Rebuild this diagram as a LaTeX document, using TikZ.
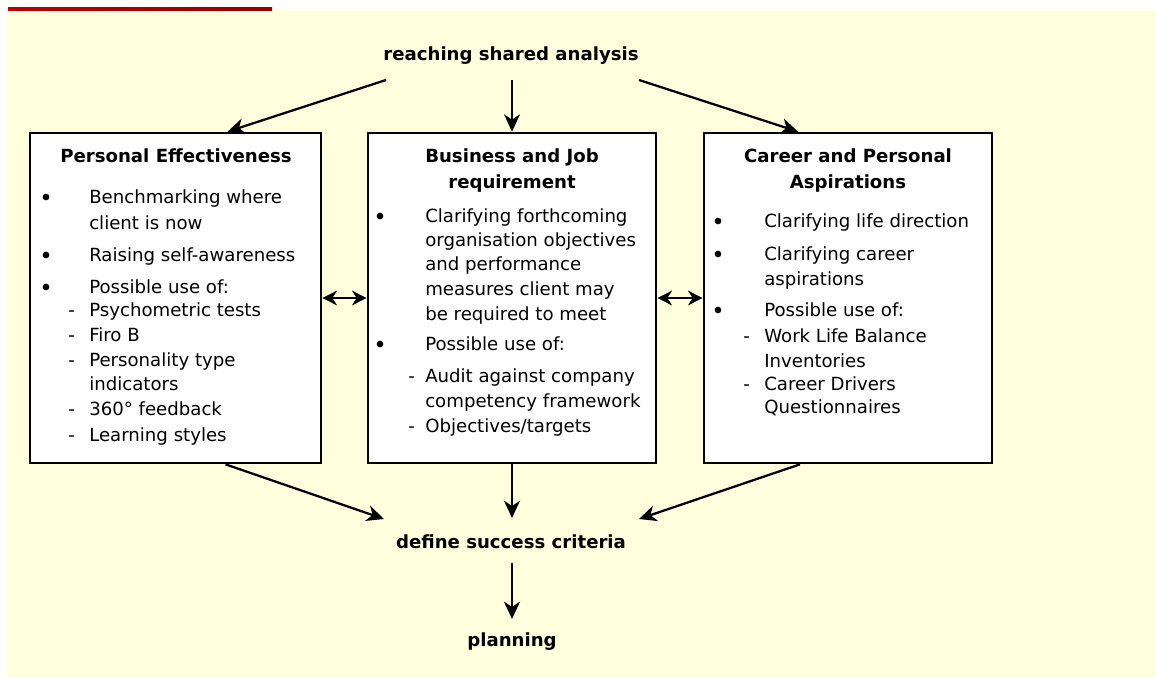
\documentclass[tikz,border=0pt]{standalone}
\usepackage{fontspec}
\setmainfont{DejaVu Sans}
\usetikzlibrary{arrows.meta,calc}

\definecolor{paleyellow}{RGB}{255,255,221}
\definecolor{barred}{RGB}{190,0,0}
\definecolor{bardark}{RGB}{150,0,0}

\tikzset{
  box/.style={draw, fill=white, line width=2pt, inner sep=0pt, minimum height=247.5pt},
  txt/.style={anchor=base west, inner sep=0pt, font=\fontsize{13.6}{16}\selectfont},
  ttl/.style={anchor=base, inner sep=0.75pt, font=\fontsize{13.6}{16}\selectfont\bfseries},
  bul/.style={circle, fill=black, inner sep=0pt, minimum size=5pt},
  arr/.style={line width=1.7pt, -{Stealth[length=13pt,width=12pt,inset=4pt]}},
  dbl/.style={line width=1.7pt, {Stealth[length=11pt,width=11pt,inset=3.5pt]}-{Stealth[length=11pt,width=11pt,inset=3.5pt]}}
}

\begin{document}
\begin{tikzpicture}[x=0.75pt,y=0.75pt,yscale=-1,xscale=1]
\useasboundingbox (0,0) rectangle (1156,678);

%Background
\fill [white] (0,0) rectangle (1156,678);
\fill [paleyellow] (7,10) rectangle (1156,678);
\shade [left color=barred, right color=bardark] (8,7) rectangle (272,10);

%Boxes
\node (pe) [box, minimum width=218.25pt] at (175.5,298) {};
\node (bj) [box, minimum width=216pt] at (512,298) {};
\node (cp) [box, minimum width=216pt] at (848,298) {};

% Text Node
\draw (511,60) node (rsa) [ttl] {reaching shared analysis};
% Text Node
\draw (511,548) node (dsc) [ttl] {define success criteria};
% Text Node
\draw (512,646) node (pl) [ttl] {planning};

%Personal Effectiveness
\draw (176,162) node (pe-t) [ttl] {Personal Effectiveness};
\draw (46,197) node (pe-b1) [bul] {};
\draw (89,203) node (pe-1) [txt] {Benchmarking where};
\draw (89,229) node (pe-2) [txt] {client is now};
\draw (46,255) node (pe-b2) [bul] {};
\draw (89,261) node (pe-3) [txt] {Raising self-awareness};
\draw (46,287) node (pe-b3) [bul] {};
\draw (89,293) node (pe-4) [txt] {Possible use of:};
\draw (68,316) node (pe-d1) [txt] {-};
\draw (89,316) node (pe-5) [txt] {Psychometric tests};
\draw (68,341) node (pe-d2) [txt] {-};
\draw (89,341) node (pe-6) [txt] {Firo B};
\draw (68,366) node (pe-d3) [txt] {-};
\draw (89,366) node (pe-7) [txt] {Personality type};
\draw (89,390) node (pe-8) [txt] {indicators};
\draw (68,415) node (pe-d4) [txt] {-};
\draw (89,415) node (pe-9) [txt] {360° feedback};
\draw (68,441) node (pe-d5) [txt] {-};
\draw (89,441) node (pe-10) [txt] {Learning styles};

%Business and Job requirement
\draw (512,162) node (bj-t1) [ttl] {Business and Job};
\draw (512,188) node (bj-t2) [ttl] {requirement};
\draw (380,216) node (bj-b1) [bul] {};
\draw (425,222) node (bj-1) [txt] {Clarifying forthcoming};
\draw (425,246) node (bj-2) [txt] {organisation objectives};
\draw (425,270) node (bj-3) [txt] {and performance};
\draw (425,295) node (bj-4) [txt] {measures client may};
\draw (425,320) node (bj-5) [txt] {be required to meet};
\draw (380,344) node (bj-b2) [bul] {};
\draw (425,350) node (bj-6) [txt] {Possible use of:};
\draw (408,382) node (bj-d1) [txt] {-};
\draw (425,382) node (bj-7) [txt] {Audit against company};
\draw (425,407) node (bj-8) [txt] {competency framework};
\draw (408,432) node (bj-d2) [txt] {-};
\draw (425,432) node (bj-9) [txt] {Objectives/targets};

%Career and Personal Aspirations
\draw (848,162) node (cp-t1) [ttl] {Career and Personal};
\draw (848,188) node (cp-t2) [ttl] {Aspirations};
\draw (718,221) node (cp-b1) [bul] {};
\draw (764,227) node (cp-1) [txt] {Clarifying life direction};
\draw (718,254) node (cp-b2) [bul] {};
\draw (764,260) node (cp-2) [txt] {Clarifying career};
\draw (764,285) node (cp-3) [txt] {aspirations};
\draw (718,310) node (cp-b3) [bul] {};
\draw (764,316) node (cp-4) [txt] {Possible use of:};
\draw (743,342) node (cp-d1) [txt] {-};
\draw (764,342) node (cp-5) [txt] {Work Life Balance};
\draw (764,367) node (cp-6) [txt] {Inventories};
\draw (743,390) node (cp-d2) [txt] {-};
\draw (764,390) node (cp-7) [txt] {Career Drivers};
\draw (764,413) node (cp-8) [txt] {Questionnaires};

%Arrows in
\draw [arr] ($(rsa.base)+(-125,20)$) -- ($(pe.north)+(52,0)$);
\draw [arr] ($(rsa.base)+(1,20)$) -- (bj.north);
\draw [arr] ($(rsa.base)+(128,20)$) -- ($(cp.north)+(-50,0)$);
%Links between boxes
\draw [dbl] (pe.east) -- (bj.west);
\draw [dbl] (bj.east) -- (cp.west);
%Arrows out
\draw [arr] ($(pe.south)+(50,0)$) -- ($(dsc.base)+(-127,-29)$);
\draw [arr] (bj.south) -- ($(dsc.base)+(1,-30)$);
\draw [arr] ($(cp.south)+(-48,0)$) -- ($(dsc.base)+(128,-29)$);
\draw [arr] ($(dsc.base)+(1,15)$) -- ($(pl.base)+(0,-27)$);

\end{tikzpicture}
\end{document}
